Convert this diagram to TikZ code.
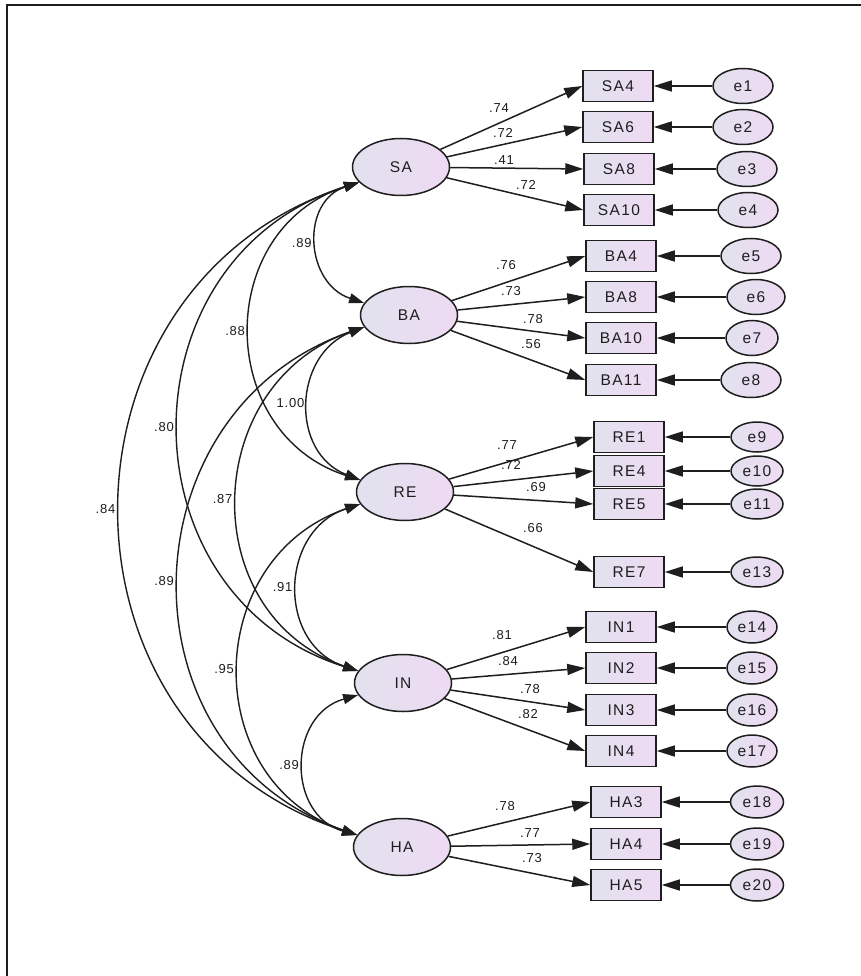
\documentclass[tikz,border=0pt]{standalone}
\usepackage{fontspec}
\setmainfont{Liberation Sans}
\usetikzlibrary{arrows.meta,shapes.geometric}
\definecolor{lavL}{RGB}{226,226,238}
\definecolor{lavR}{RGB}{238,218,243}
\definecolor{ink}{RGB}{30,30,30}
\tikzset{
  lbfont/.style={font=\fontsize{15.5}{17}\selectfont\addfontfeature{LetterSpace=9}, text=ink},
  shp/.style={draw=ink, line width=1.5pt, inner sep=0pt, left color=lavL, right color=lavR, lbfont},
  lat/.style={shp, ellipse, minimum width=97pt, minimum height=57pt},
  obs/.style={shp, rectangle, minimum width=70pt, minimum height=31pt},
  err/.style={shp, ellipse},
  errA/.style={err, minimum width=60pt, minimum height=35pt},
  errB/.style={err, minimum width=52pt, minimum height=30pt},
  errC/.style={err, minimum width=50pt, minimum height=32pt},
  errD/.style={err, minimum width=53pt, minimum height=32pt},
  ld/.style={-{Triangle[length=18pt,width=11pt]}, draw=ink, line width=1.5pt},
  cov/.style={{Triangle[length=15pt,width=10pt]}-{Triangle[length=15pt,width=10pt]}, draw=ink, line width=1.4pt},
  num/.style={font=\fontsize{13}{15}\selectfont\addfontfeature{LetterSpace=6}, text=ink, inner sep=0pt}
}
\begin{document}
\begin{tikzpicture}[x=1pt, y=-1pt]
\useasboundingbox (0,0) rectangle (861,976);
\fill[white] (0,0) rectangle (861,976);
\draw[ink, line width=2pt] (6.5,976) -- (6.5,5.5) -- (861,5.5);

% latent variables
\node[lat] (SA) at (401,167) {SA};
\node[lat] (BA) at (409,315) {BA};
\node[lat] (RE) at (405,492) {RE};
\node[lat] (IN) at (403,683) {IN};
\node[lat] (HA) at (402,847) {HA};

% indicators
\node[obs] (SA4) at (618,86) {SA4};
\node[obs] (SA6) at (618,127) {SA6};
\node[obs] (SA8) at (619,169) {SA8};
\node[obs] (SA10) at (619,210) {SA10};
\node[obs] (BA4) at (621,256) {BA4};
\node[obs] (BA8) at (621,297) {BA8};
\node[obs] (BA10) at (621,338) {BA10};
\node[obs] (BA11) at (621,380) {BA11};
\node[obs] (RE1) at (629,437) {RE1};
\node[obs] (RE4) at (629,471) {RE4};
\node[obs] (RE5) at (629,504) {RE5};
\node[obs] (RE7) at (629,572) {RE7};
\node[obs] (IN1) at (621,627) {IN1};
\node[obs] (IN2) at (621,668) {IN2};
\node[obs] (IN3) at (621,710) {IN3};
\node[obs] (IN4) at (621,751) {IN4};
\node[obs] (HA3) at (626,802) {HA3};
\node[obs] (HA4) at (626,844) {HA4};
\node[obs] (HA5) at (626,885) {HA5};

% errors
\node[errA] (e1) at (743,86) {e1};
\node[errA] (e2) at (743,127) {e2};
\node[errA] (e3) at (747,169) {e3};
\node[errA] (e4) at (748,210) {e4};
\node[errA] (e5) at (751,256) {e5};
\node[errA, minimum width=58pt] (e6) at (756,297) {e6};
\node[errA, minimum width=52pt] (e7) at (752,338) {e7};
\node[errA] (e8) at (751,380) {e8};
\node[errB] (e9) at (757,437) {e9};
\node[errB] (e10) at (757,471) {e10};
\node[errB] (e11) at (757,504) {e11};
\node[errB] (e13) at (757,572) {e13};
\node[errC] (e14) at (752,627) {e14};
\node[errC] (e15) at (752,668) {e15};
\node[errC] (e16) at (752,710) {e16};
\node[errC] (e17) at (752,751) {e17};
\node[errD] (e18) at (757,802) {e18};
\node[errD] (e19) at (757,844) {e19};
\node[errD] (e20) at (757,885) {e20};

% loadings
\foreach \l/\o in {SA/SA4,SA/SA6,SA/SA8,SA/SA10,BA/BA4,BA/BA8,BA/BA10,BA/BA11,
                   RE/RE1,RE/RE4,RE/RE5,RE/RE7,IN/IN1,IN/IN2,IN/IN3,IN/IN4,
                   HA/HA3,HA/HA4,HA/HA5}
  \draw[ld] (\l) -- (\o.west);

% error arrows
\foreach \e/\o in {e1/SA4,e2/SA6,e3/SA8,e4/SA10,e5/BA4,e6/BA8,e7/BA10,e8/BA11,
                   e9/RE1,e10/RE4,e11/RE5,e13/RE7,e14/IN1,e15/IN2,e16/IN3,e17/IN4,
                   e18/HA3,e19/HA4,e20/HA5}
  \draw[ld] (\e.west) -- (\o.east);

% loading labels
\node[num] (l1) at (499,108) {.74};
\node[num] (l2) at (503,133) {.72};
\node[num] (l3) at (504,160) {.41};
\node[num] (l4) at (526,185) {.72};
\node[num] (l5) at (506,265) {.76};
\node[num] (l6) at (511,291) {.73};
\node[num] (l7) at (533,319) {.78};
\node[num] (l8) at (531,344) {.56};
\node[num] (l9) at (507,445) {.77};
\node[num] (l10) at (511,465) {.72};
\node[num] (l11) at (536,487) {.69};
\node[num] (l12) at (533,528) {.66};
\node[num] (l13) at (502,635) {.81};
\node[num] (l14) at (508,661) {.84};
\node[num] (l15) at (530,689) {.78};
\node[num] (l16) at (528,714) {.82};
\node[num] (l17) at (505,806) {.78};
\node[num] (l18) at (530,833) {.77};
\node[num] (l19) at (532,858) {.73};

% covariances
\draw[cov] (SA.200) .. controls +(-59,19.5) and +(-59,-19.5) .. (BA.165) node[num, pos=0.5, left=5pt] (c1) {.89};
\draw[cov] (SA.200) .. controls +(-145.3,46.7) and +(-145.3,-46.7) .. (RE.165) node[num, pos=0.5, left=5pt] (c2) {.88};
\draw[cov] (BA.195) .. controls +(-70.7,27.5) and +(-70.7,-27.5) .. (RE.165) node[num, pos=0.5, left=4pt] (c3) {1.00};
\draw[cov] (SA.200) .. controls +(-238.7,75.7) and +(-238.7,-75.7) .. (IN.165) node[num, pos=0.5, left=5pt] (c4) {.80};
\draw[cov] (BA.195) .. controls +(-164,56.7) and +(-164,-56.7) .. (IN.165) node[num, pos=0.5, left=5pt] (c5) {.87};
\draw[cov] (SA.200) .. controls +(-316,102.4) and +(-316,-102.4) .. (HA.165) node[num, pos=0.5, left=5pt] (c6) {.84};
\draw[cov] (BA.195) .. controls +(-241.3,83.3) and +(-241.3,-83.3) .. (HA.165) node[num, pos=0.5, left=5pt] (c7) {.89};
\draw[cov] (RE.195) .. controls +(-81.3,26.9) and +(-81.3,-26.9) .. (IN.165) node[num, pos=0.5, left=5pt] (c8) {.91};
\draw[cov] (RE.195) .. controls +(-158.7,54) and +(-158.7,-54) .. (HA.165) node[num, pos=0.5, left=5pt] (c9) {.95};
\draw[cov] (IN.195) .. controls +(-70.7,19.8) and +(-70.7,-19.8) .. (HA.165) node[num, pos=0.5, left=5pt] (c10) {.89};
\end{tikzpicture}
\end{document}
